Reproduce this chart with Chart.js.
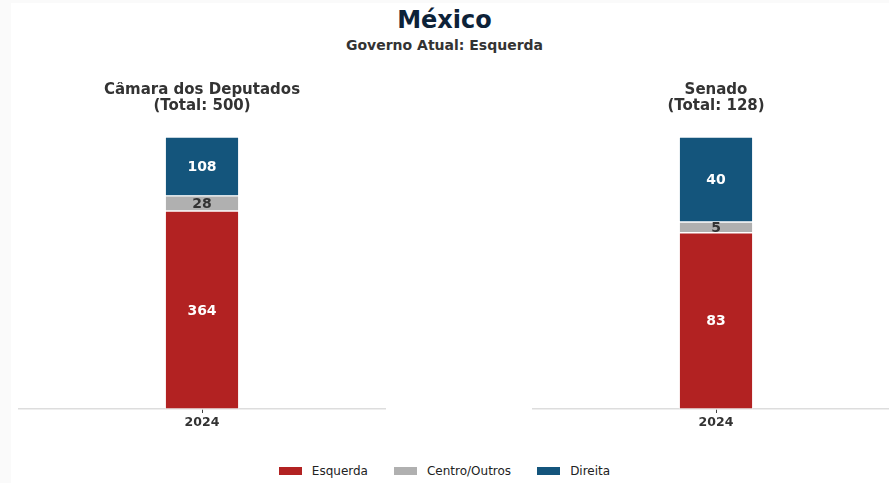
<!DOCTYPE html>
<html>
<head>
<meta charset="utf-8">
<script src="https://cdn.jsdelivr.net/npm/chart.js@4.4.1/dist/chart.umd.min.js"></script>
<style>
  html, body { margin: 0; padding: 0; }
  body {
    width: 889px; height: 483px; overflow: hidden; position: relative;
    background: #fafafa; font-family: "DejaVu Sans", sans-serif;
  }
  #panel { position: absolute; left: 11px; top: 3px; right: 0; bottom: 0; background: #fff; }
  #title {
    position: absolute; left: 0; width: 889px; top: 6px; text-align: center;
    font-size: 24px; font-weight: bold; color: #0d2238;
  }
  #subtitle {
    position: absolute; left: 0; width: 889px; top: 37px; text-align: center;
    font-size: 14px; font-weight: bold; color: #333;
  }
  .box { position: absolute; top: 82px; width: 368px; height: 358px; }
  #legend {
    position: absolute; left: 0; width: 889px; top: 464px;
    display: flex; justify-content: center; font-size: 12px; color: #222;
  }
  .item { display: flex; align-items: center; margin: 0 13px; }
  .sw { width: 23px; height: 8px; margin-right: 10px; }
</style>
</head>
<body>
<div id="panel"></div>
<div id="title">México</div>
<div id="subtitle">Governo Atual: Esquerda</div>
<div class="box" style="left:18px"><canvas id="camara"></canvas></div>
<div class="box" style="left:532px"><canvas id="senado"></canvas></div>
<div id="legend"></div>
<script>
const anos = ['2024'];
const grupos = ['Esquerda', 'Centro/Outros', 'Direita'];
const cores = ['#b22222', '#b0b0b0', '#14557c'];
const corRotulo = ['#ffffff', '#333333', '#ffffff'];

// assentos por grupo, na ordem de "grupos"
const camaraAssentos = [364, 28, 108];
const senadoAssentos = [83, 5, 40];
const camaraTotal = 500;
const senadoTotal = 128;

// escreve o valor no meio de cada segmento
const rotulos = {
  id: 'rotulos',
  afterDatasetsDraw(chart) {
    const ctx = chart.ctx;
    ctx.save();
    ctx.font = 'bold 14px "DejaVu Sans"';
    ctx.textAlign = 'center';
    ctx.textBaseline = 'middle';
    chart.data.datasets.forEach((ds, i) => {
      chart.getDatasetMeta(i).data.forEach((bar, j) => {
        const v = ds.data[j];
        if (!v) return;
        ctx.fillStyle = corRotulo[i];
        ctx.fillText(String(v), bar.x, (bar.y + bar.base) / 2 + 1);
      });
    });
    ctx.restore();
  }
};

function grafico(id, titulo, assentos, total) {
  const ctx = document.getElementById(id).getContext('2d');
  return new Chart(ctx, {
    type: 'bar',
    data: {
      labels: anos,
      datasets: grupos.map((g, i) => ({
        label: g,
        data: [assentos[i]],
        backgroundColor: cores[i],
        borderColor: 'rgba(255,255,255,0.35)',
        borderWidth: 0.7,
        borderSkipped: false,
        barPercentage: 0.2,
        categoryPercentage: 1
      }))
    },
    options: {
      responsive: true,
      maintainAspectRatio: false,
      animation: false,
      layout: { padding: { left: 0, right: 0, top: 0, bottom: 8 } },
      plugins: {
        legend: { display: false },
        tooltip: { enabled: false },
        title: {
          display: true,
          text: titulo,
          color: '#333',
          font: { family: 'DejaVu Sans', size: 15, weight: 'bold', lineHeight: 1.07 },
          padding: { top: 0, bottom: 23 }
        }
      },
      scales: {
        x: {
          stacked: true,
          grid: { offset: false, drawOnChartArea: false, drawTicks: true, tickLength: 4, color: '#444' },
          border: { color: '#dddddd', width: 1.5 },
          ticks: { color: '#333', font: { family: 'DejaVu Sans', size: 12.5, weight: 'bold' }, padding: 2 }
        },
        y: {
          stacked: true,
          display: false,
          min: 0,
          max: total
        }
      }
    },
    plugins: [rotulos]
  });
}

grafico('camara', ['Câmara dos Deputados', '(Total: ' + camaraTotal + ')'], camaraAssentos, camaraTotal);
grafico('senado', ['Senado', '(Total: ' + senadoTotal + ')'], senadoAssentos, senadoTotal);

const legenda = document.getElementById('legend');
grupos.forEach((g, i) => {
  const item = document.createElement('div');
  item.className = 'item';
  item.innerHTML = '<span class="sw" style="background:' + cores[i] + '"></span>' + g;
  legenda.appendChild(item);
});
</script>
</body>
</html>
